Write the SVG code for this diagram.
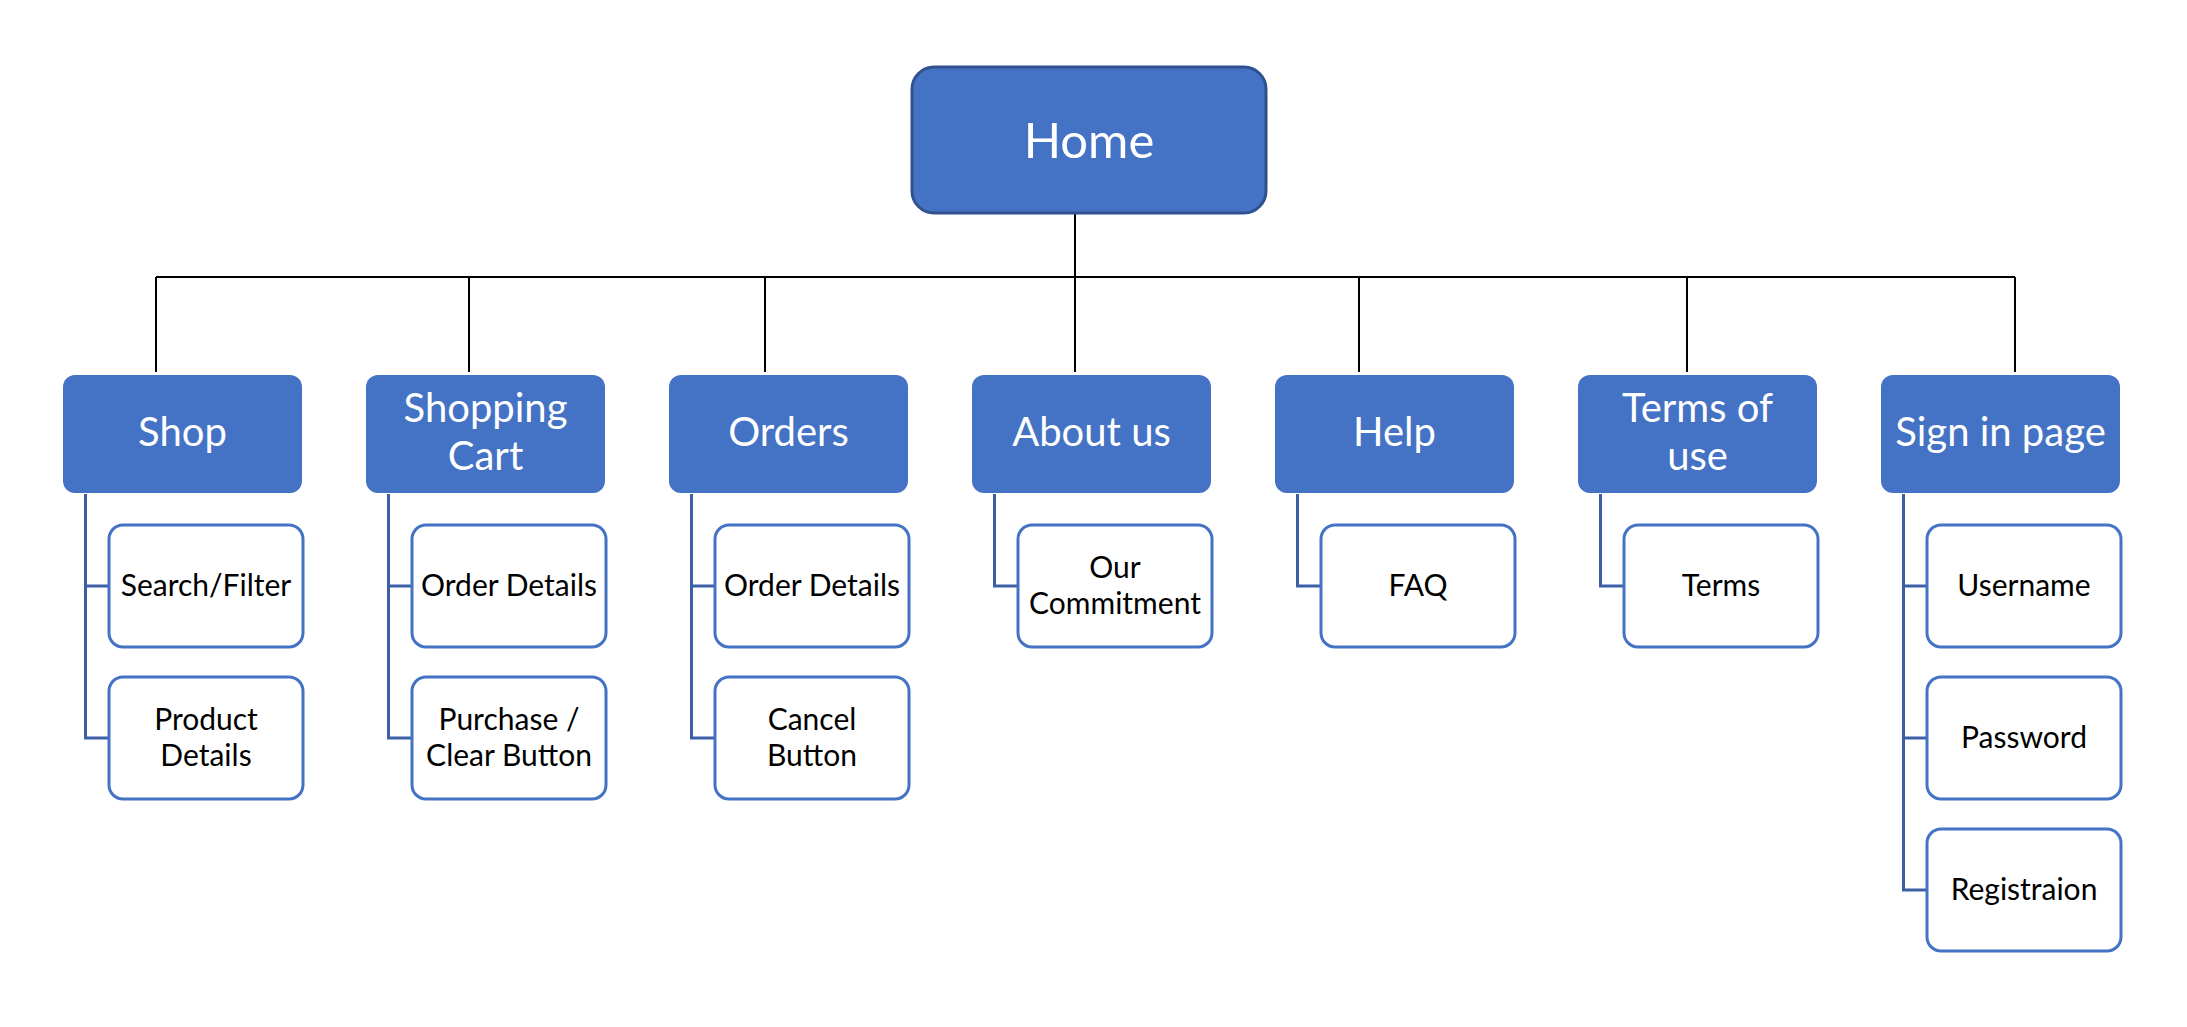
<svg xmlns="http://www.w3.org/2000/svg" width="2187" height="1027" viewBox="0 0 2187 1027">
<style>
.home{fill:#4472C4;stroke:#2F528F;stroke-width:3}
.l2{fill:#4472C4;stroke:none}
.l3{fill:#FFFFFF;stroke:#4472C4;stroke-width:3}
.t1{font-family:Lato,"Noto Sans",sans-serif;font-size:49px;fill:#FFFFFF;text-anchor:middle}
.t2{font-family:Lato,"Noto Sans",sans-serif;font-size:40px;fill:#FFFFFF;text-anchor:middle}
.t3{font-family:Lato,"Noto Sans",sans-serif;font-size:30px;fill:#000000;text-anchor:middle}
.bus{fill:none;stroke:#000000;stroke-width:2}
.sub{fill:none;stroke:#3B5EA6;stroke-width:3}
</style>
<rect width="2187" height="1027" fill="#FFFFFF"/>
<g id="connectors">
<path class="bus" d="M1075 213V277M156 277H2015M156 277V372M469 277V372M765 277V372M1075 277V372M1359 277V372M1687 277V372M2015 277V372"/>
<path class="sub" d="M85.5 494V738M84 586H109M84 738H109"/>
<path class="sub" d="M388.5 494V738M387 586H412M387 738H412"/>
<path class="sub" d="M691.5 494V738M690 586H715M690 738H715"/>
<path class="sub" d="M994.5 494V586M993 586H1018"/>
<path class="sub" d="M1297.5 494V586M1296 586H1321"/>
<path class="sub" d="M1600.5 494V586M1599 586H1624"/>
<path class="sub" d="M1903.5 494V890M1902 586H1927M1902 738H1927M1902 890H1927"/>
</g>
<g id="home"><rect class="home" x="912" y="67" width="354" height="146" rx="22"/><text class="t1" x="1089" y="158">Home</text></g>
<g id="shop"><rect class="l2" x="63" y="375" width="239" height="118" rx="12"/><text class="t2" x="182.5" y="446">Shop</text></g>
<g id="cart"><rect class="l2" x="366" y="375" width="239" height="118" rx="12"/><text class="t2" x="485.5" y="422">Shopping</text><text class="t2" x="485.5" y="470">Cart</text></g>
<g id="orders"><rect class="l2" x="669" y="375" width="239" height="118" rx="12"/><text class="t2" x="788.5" y="446">Orders</text></g>
<g id="about"><rect class="l2" x="972" y="375" width="239" height="118" rx="12"/><text class="t2" x="1091.5" y="446">About us</text></g>
<g id="help"><rect class="l2" x="1275" y="375" width="239" height="118" rx="12"/><text class="t2" x="1394.5" y="446">Help</text></g>
<g id="terms"><rect class="l2" x="1578" y="375" width="239" height="118" rx="12"/><text class="t2" x="1697.5" y="422">Terms of</text><text class="t2" x="1697.5" y="470">use</text></g>
<g id="signin"><rect class="l2" x="1881" y="375" width="239" height="118" rx="12"/><text class="t2" x="2000.5" y="446">Sign in page</text></g>
<g id="search"><rect class="l3" x="109" y="525" width="194" height="122" rx="14"/><text class="t3" x="206" y="596">Search/Filter</text></g>
<g id="product"><rect class="l3" x="109" y="677" width="194" height="122" rx="14"/><text class="t3" x="206" y="730">Product</text><text class="t3" x="206" y="766">Details</text></g>
<g id="cartorder"><rect class="l3" x="412" y="525" width="194" height="122" rx="14"/><text class="t3" x="509" y="596">Order Details</text></g>
<g id="purchase"><rect class="l3" x="412" y="677" width="194" height="122" rx="14"/><text class="t3" x="509" y="730">Purchase /</text><text class="t3" x="509" y="766">Clear Button</text></g>
<g id="ordersorder"><rect class="l3" x="715" y="525" width="194" height="122" rx="14"/><text class="t3" x="812" y="596">Order Details</text></g>
<g id="cancel"><rect class="l3" x="715" y="677" width="194" height="122" rx="14"/><text class="t3" x="812" y="730">Cancel</text><text class="t3" x="812" y="766">Button</text></g>
<g id="commitment"><rect class="l3" x="1018" y="525" width="194" height="122" rx="14"/><text class="t3" x="1115" y="578">Our</text><text class="t3" x="1115" y="614">Commitment</text></g>
<g id="faq"><rect class="l3" x="1321" y="525" width="194" height="122" rx="14"/><text class="t3" x="1418" y="596">FAQ</text></g>
<g id="termsdoc"><rect class="l3" x="1624" y="525" width="194" height="122" rx="14"/><text class="t3" x="1721" y="596">Terms</text></g>
<g id="username"><rect class="l3" x="1927" y="525" width="194" height="122" rx="14"/><text class="t3" x="2024" y="596">Username</text></g>
<g id="password"><rect class="l3" x="1927" y="677" width="194" height="122" rx="14"/><text class="t3" x="2024" y="748">Password</text></g>
<g id="registration"><rect class="l3" x="1927" y="829" width="194" height="122" rx="14"/><text class="t3" x="2024" y="900">Registraion</text></g>
</svg>
